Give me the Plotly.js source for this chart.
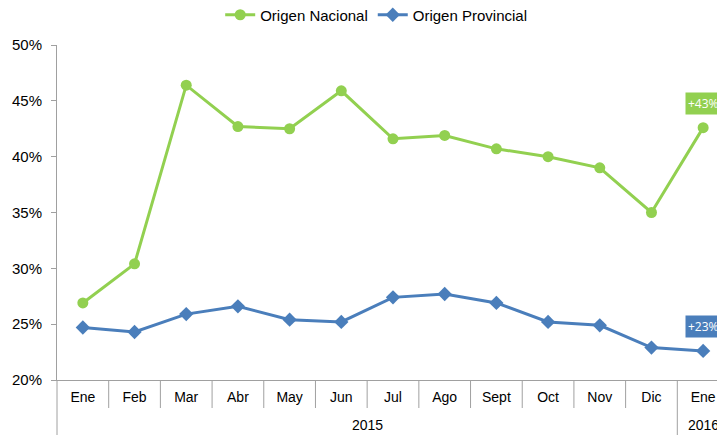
<!DOCTYPE html>
<html>
<head>
<meta charset="utf-8">
<script src="https://cdn.plot.ly/plotly-3.0.1.min.js"></script>
<style>
  html, body { margin: 0; padding: 0; overflow: hidden; background: #fff; }
  #plot-area { width: 740px; height: 435px; }
</style>
</head>
<body>
<div id="plot-area"></div>
<script>
// months, last one is January of the next year
var months = ["Ene","Feb","Mar","Abr","May","Jun","Jul","Ago","Sept","Oct","Nov","Dic","Ene"];
var years = ["2015","2016"];
var yearStart = [0, 12];   // first month index of each year
var nacional = [26.9, 30.4, 46.4, 42.7, 42.5, 45.9, 41.6, 41.9, 40.7, 40.0, 39.0, 35.0, 42.6];
var provincial = [24.7, 24.3, 25.9, 26.6, 25.4, 25.2, 27.4, 27.7, 26.9, 25.2, 24.9, 22.9, 22.6];

var green = "#92D050", blue = "#4A7EBB", gray = "#A0A0A0";
var plotH = 435 - 45 - 55;

function UpdatePlot() {
    var xIdx = months.map(function (m, i) { return i; });

    var data = [
        {
            x: xIdx, y: nacional,
            mode: "lines+markers",
            name: "Origen Nacional",
            line: {color: green, width: 3},
            marker: {color: green, size: 11, symbol: "circle"}
        },
        {
            x: xIdx, y: provincial,
            mode: "lines+markers",
            name: "Origen Provincial",
            line: {color: blue, width: 3},
            marker: {color: blue, size: 11, symbol: "diamond"}
        }
    ];

    var shapes = [], annotations = [];

    // month dividers under the axis
    for (var i = 1; i < months.length; i++) {
        var isYear = yearStart.indexOf(i) >= 0;
        shapes.push({
            type: "line", xref: "x", yref: "paper",
            x0: i - 0.5, x1: i - 0.5, y0: 0, y1: isYear ? -60 / plotH : -28 / plotH,
            line: {color: gray, width: 1}
        });
    }
    shapes.push({
        type: "line", xref: "paper", yref: "paper",
        x0: 0, x1: 0, y0: 0, y1: -60 / plotH,
        line: {color: gray, width: 1}
    });

    // year labels
    for (var k = 0; k < years.length; k++) {
        var s = yearStart[k];
        var e = (k + 1 < years.length) ? yearStart[k + 1] - 1 : months.length - 1;
        annotations.push({
            x: (s + e) / 2, xref: "x", y: -45 / plotH, yref: "paper",
            text: years[k], showarrow: false, yanchor: "middle",
            font: {family: "Liberation Sans, Arial", size: 14, color: "#000"}
        });
    }

    // end labels
    var last = months.length - 1;
    [[nacional, green], [provincial, blue]].forEach(function (p) {
        annotations.push({
            x: last, y: p[0][last], xref: "x", yref: "y",
            text: "+" + Math.round(p[0][last]) + "%",
            showarrow: false, yshift: 24,
            bgcolor: p[1], borderpad: 2,
            font: {family: "Open Sans, Liberation Sans", size: 12, color: "#fff"}
        });
    });

    var layout = {
        width: 740, height: 435,
        margin: {l: 57, r: 11, t: 45, b: 55, autoexpand: false},
        paper_bgcolor: "#fff", plot_bgcolor: "#fff",
        font: {family: "Liberation Sans, Arial", size: 14, color: "#000"},
        showlegend: true,
        legend: {
            orientation: "h", x: 0.475, xanchor: "center",
            yref: "container", y: 1 - 15 / 435, yanchor: "middle",
            font: {size: 15}, traceorder: "normal", itemwidth: 30
        },
        xaxis: {
            range: [-0.5, months.length - 0.5],
            tickvals: xIdx, ticktext: months,
            showgrid: false, zeroline: false,
            showline: true, linecolor: gray, linewidth: 1,
            ticks: "", ticklabelstandoff: 4
        },
        yaxis: {
            range: [20, 50], dtick: 5, ticksuffix: "%",
            showgrid: false, zeroline: false,
            showline: true, linecolor: gray, linewidth: 1,
            ticks: "outside", ticklen: 5, tickcolor: gray,
            ticklabelstandoff: 6,
            tickfont: {size: 15}
        },
        shapes: shapes,
        annotations: annotations
    };

    Plotly.newPlot("plot-area", data, layout, {displayModeBar: false, staticPlot: true});
}

UpdatePlot();
</script>
</body>
</html>
